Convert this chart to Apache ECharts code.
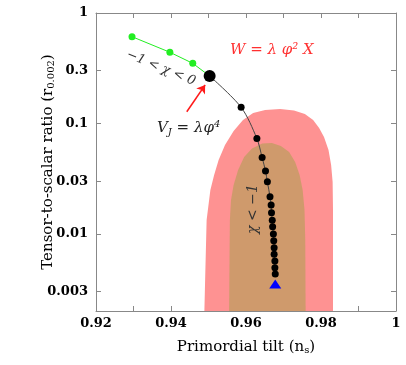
<!DOCTYPE html>
<html><head><meta charset="utf-8">
<script src="https://cdn.jsdelivr.net/npm/echarts@6/dist/echarts.min.js"></script>
<style>html,body{margin:0;padding:0;background:#fff}#c{width:406px;height:365px}</style>
</head><body><div id="c"></div>
<script>
// ---- data ----
const yTickValues = [0.003, 0.01, 0.03, 0.1, 0.3, 1];
const yTickLabels = ['0.003', '0.01', '0.03', '0.1', '0.3', '1'];
const xTickLabels = ['0.92', '0.94', '0.96', '0.98', '1'];

// 95% (outer) and 68% (inner) contours: ns, r
const outerNs = [0.9489, 0.9491, 0.9493, 0.9495, 0.9500, 0.9505, 0.9515, 0.9527, 0.9544, 0.9567, 0.9592, 0.9619, 0.9651, 0.9691, 0.9728, 0.9757, 0.9779, 0.9795, 0.9808, 0.9820, 0.9827, 0.9831, 0.9832, 0.9832, 0.9832];
const outerR  = [0.002, 0.00382, 0.00713, 0.01334, 0.01824, 0.02493, 0.03408, 0.04661, 0.06373, 0.08534, 0.1073, 0.1242, 0.1322, 0.1351, 0.1308, 0.1217, 0.1073, 0.09085, 0.07528, 0.05741, 0.04199, 0.02945, 0.01643, 0.00713, 0.002];
const innerNs = [0.9555, 0.9556, 0.9557, 0.9560, 0.9567, 0.9579, 0.9595, 0.9616, 0.9643, 0.9669, 0.9693, 0.9715, 0.9731, 0.9743, 0.9751, 0.9756, 0.9758, 0.9759];
const innerR  = [0.002, 0.00579, 0.01334, 0.02024, 0.02767, 0.03784, 0.04962, 0.05924, 0.06574, 0.06644, 0.06242, 0.05507, 0.04471, 0.03408, 0.02493, 0.01643, 0.00879, 0.002];

// -1 < chi < 0 branch (green)
const greenNs = [0.9296, 0.9397, 0.9458, 0.9503];
const greenR  = [0.610, 0.441, 0.350, 0.2687];
// chi = 0 point (V_J = lambda phi^4)
const chi0Ns = [0.9503];
const chi0R  = [0.2687];
// chi < -1 branch (black)
const blackNs = [0.9503, 0.9587, 0.9629, 0.9643, 0.9652, 0.9657, 0.9664, 0.9667, 0.9668, 0.9670, 0.9671, 0.9673, 0.9674, 0.9675, 0.9675, 0.9677, 0.9677, 0.9678];
const blackR  = [0.2687, 0.140, 0.0730, 0.0491, 0.0371, 0.0296, 0.0217, 0.0182, 0.0155, 0.0133, 0.0116, 0.00996, 0.00866, 0.00748, 0.00652, 0.00567, 0.00493, 0.00432];
// limit point (blue triangle)
const limitNs = [0.9678];
const limitR  = [0.00351];
// arrow pointing at chi = 0 point
const arrowFrom = [0.9442, 0.1276];
const arrowTo   = [0.9491, 0.2228];

// ---- chart ----
const zip = (a, b) => a.map((v, i) => [v, b[i]]);
const SERIF = '"DejaVu Serif", serif';

function polygonSeries(data, color) {
  return {
    type: 'custom',
    silent: true,
    data: data,
    renderItem: function (params, api) {
      if (params.dataIndex !== 0) return;
      const pts = data.map(d => api.coord(d));
      return { type: 'polygon', shape: { points: pts }, style: { fill: color } };
    },
    z: 1
  };
}

const tickStyle = { inside: true, length: 5, lineStyle: { color: '#888' } };
const lineStyleAxis = { show: true, onZero: false, lineStyle: { color: '#888', width: 1 } };
const nameRich = {
  s: { fontFamily: SERIF, fontSize: 15, color: '#000' },
  sub: { fontFamily: SERIF, fontSize: 10, color: '#000', verticalAlign: 'bottom', padding: [6, 0, 0, 0] }
};

const chart = echarts.init(document.getElementById('c'));
chart.setOption({
  animation: false,
  backgroundColor: '#fff',
  grid: { left: 96, right: 10, top: 13, bottom: 54 },
  xAxis: [
    {
      type: 'value', min: 0.92, max: 1, interval: 0.01, position: 'bottom',
      axisLine: lineStyleAxis, axisTick: tickStyle, splitLine: { show: false },
      name: 'Primordial tilt ({s|n}{sub|s})', nameLocation: 'middle', nameGap: 28,
      nameTextStyle: { fontFamily: SERIF, fontSize: 15, color: '#000', rich: nameRich },
      axisLabel: {
        margin: 6, fontFamily: SERIF, fontWeight: 'bold', fontSize: 13, color: '#000',
        formatter: v => { const k = Math.round(v * 100); return (k % 2 === 0) ? xTickLabels[(k - 92) / 2] : ''; }
      }
    },
    {
      type: 'value', min: 0.92, max: 1, interval: 0.01, position: 'top',
      axisLine: lineStyleAxis, axisTick: tickStyle, splitLine: { show: false },
      axisLabel: { show: false }
    }
  ],
  yAxis: [
    {
      type: 'log', logBase: 10, min: 0.002, max: 1, position: 'left',
      axisLine: lineStyleAxis, splitLine: { show: false }, minorTick: { show: false },
      name: 'Tensor-to-scalar ratio ({s|r}{sub|0.002})', nameLocation: 'middle', nameGap: 40, nameRotate: 90,
      nameMoveOverlap: false,
      nameTextStyle: { fontFamily: SERIF, fontSize: 15, color: '#000', rich: nameRich },
      axisTick: Object.assign({ customValues: yTickValues }, tickStyle),
      axisLabel: {
        margin: 8, fontFamily: SERIF, fontWeight: 'bold', fontSize: 13, color: '#000',
        customValues: yTickValues,
        formatter: v => { let best = 0; yTickValues.forEach((t, i) => { if (Math.abs(Math.log10(t) - Math.log10(v)) < Math.abs(Math.log10(yTickValues[best]) - Math.log10(v))) best = i; }); return yTickLabels[best]; }
      }
    },
    {
      type: 'log', logBase: 10, min: 0.002, max: 1, position: 'right',
      axisLine: lineStyleAxis, splitLine: { show: false }, minorTick: { show: false },
      axisTick: Object.assign({ customValues: yTickValues }, tickStyle),
      axisLabel: { show: false, customValues: yTickValues }
    }
  ],
  series: [
    polygonSeries(zip(outerNs, outerR), '#fe9292'),
    polygonSeries(zip(innerNs, innerR), '#cf9a6c'),
    {
      type: 'line', data: zip(greenNs, greenR), z: 3,
      lineStyle: { color: '#22ee22', width: 1 },
      symbol: 'circle', symbolSize: 7, itemStyle: { color: '#22ee22' }, showSymbol: true
    },
    {
      type: 'line', data: zip(blackNs, blackR), z: 4, smooth: 0.3,
      lineStyle: { color: '#444', width: 1 },
      symbol: 'circle', symbolSize: 7, itemStyle: { color: '#000' }, showSymbol: true,
      markLine: {
        silent: true, symbol: ['none', 'arrow'], symbolSize: 8,
        lineStyle: { color: '#ff1a1a', width: 1.5, type: 'solid' }, label: { show: false },
        data: [[{ coord: arrowFrom }, { coord: arrowTo }]]
      }
    },
    {
      type: 'scatter', data: zip(chi0Ns, chi0R), z: 5,
      symbol: 'circle', symbolSize: 12, itemStyle: { color: '#000', opacity: 1 }
    },
    {
      type: 'scatter', data: zip(limitNs, limitR), z: 5,
      symbol: 'triangle', symbolSize: [12, 9], itemStyle: { color: '#0000ff', opacity: 1 }
    }
  ],
  graphic: [
    { type: 'text', left: 230, top: 43, z: 10, style: { text: 'W = λ φ² X', font: 'italic 15px "DejaVu Serif", serif', fill: '#ff3030' } },
    { type: 'text', x: 161, y: 68, rotation: -0.39, z: 10, style: { text: '−1 < χ < 0', font: 'italic 13px "DejaVu Serif", serif', fill: '#333', align: 'center', verticalAlign: 'middle' } },
    { type: 'text', left: 157, top: 119, z: 10, style: { text: '{v|V}{sub|J}{v| = λφ}{sup|4}', rich: {
      v: { font: 'italic 15px "DejaVu Serif", serif', fill: '#222' },
      sub: { font: 'italic 10px "DejaVu Serif", serif', fill: '#222', verticalAlign: 'bottom', padding: [8, 0, 0, 0] },
      sup: { font: 'italic 10px "DejaVu Serif", serif', fill: '#222', verticalAlign: 'top', padding: [0, 0, 8, 0] } } } },
    { type: 'text', x: 253, y: 209, rotation: Math.PI / 2, z: 10, style: { text: 'χ < −1', font: 'italic 14px "DejaVu Serif", serif', fill: '#333', align: 'center', verticalAlign: 'middle' } }
  ]
});
</script></body></html>
